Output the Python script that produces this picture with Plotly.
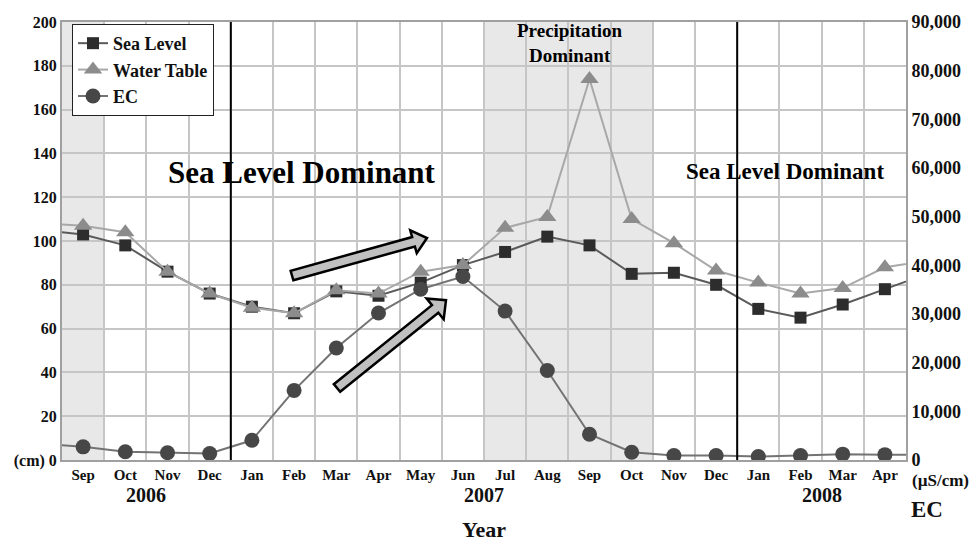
import plotly.graph_objects as go

# ---------------- data ----------------
# months from Aug 2006 to May 2008; first and last only set the line ends at the plot edges
month_labels = ["Aug", "Sep", "Oct", "Nov", "Dec",
                "Jan", "Feb", "Mar", "Apr", "May", "Jun", "Jul", "Aug", "Sep", "Oct", "Nov", "Dec",
                "Jan", "Feb", "Mar", "Apr", "May"]
month_pos = list(range(-1, 21))
sea_level = [105, 103, 98, 86, 76, 70, 67, 77, 75, 81, 89, 95, 102, 98, 85, 85.5, 80, 69, 65, 71, 78, 85]
water_table = [108, 107, 104, 86, 76, 69.5, 67, 77.5, 76, 86, 89, 106, 111, 174, 110, 99, 86.5, 81, 76, 78.5, 88, 91]
ec = [3400, 2700, 1700, 1500, 1350, 4050, 14300, 23000, 30200, 35100, 37700, 30600, 18400, 5300,
      1600, 900, 900, 700, 900, 1200, 1100, 1100]
left_ticks = list(range(0, 201, 20))
left_ticktext = ["(cm) 0"] + [str(v) for v in left_ticks[1:]]
right_ticks = list(range(0, 90001, 10000))
years = ["2006", "2007", "2008"]
year_pos = [1.5, 9.5, 17.5]

# ---------------- layout geometry ----------------
W, H = 979, 545
L, R, T, B = 62, 906, 16, 460
FONT = "Liberation Serif"

def px2paper(px, py):
    return (px - L) / (R - L), (B - py) / (B - T)

def arrow_path(tail, tip, sw=10, hw=25, hl=14):
    import math
    x0, y0 = tail
    x1, y1 = tip
    dx, dy = x1 - x0, y1 - y0
    ln = math.hypot(dx, dy)
    ux, uy = dx / ln, dy / ln
    nx, ny = -uy, ux
    neck = (x1 - ux * hl, y1 - uy * hl)
    pts = [
        (x0 + nx * sw / 2, y0 + ny * sw / 2),
        (neck[0] + nx * sw / 2, neck[1] + ny * sw / 2),
        (neck[0] + nx * hw / 2, neck[1] + ny * hw / 2),
        (x1, y1),
        (neck[0] - nx * hw / 2, neck[1] - ny * hw / 2),
        (neck[0] - nx * sw / 2, neck[1] - ny * sw / 2),
        (x0 - nx * sw / 2, y0 - ny * sw / 2),
    ]
    pp = [px2paper(*p) for p in pts]
    return "M " + " L ".join(f"{a:.5f},{b:.5f}" for a, b in pp) + " Z"

fig = go.Figure()
fig.add_trace(go.Scatter(
    x=month_pos, y=sea_level, name="Sea Level", mode="lines+markers",
    line=dict(color="#5a5a5a", width=2),
    marker=dict(symbol="square", size=12, color="#2d2d2d"),
))
fig.add_trace(go.Scatter(
    x=month_pos, y=water_table, name="Water Table", mode="lines+markers",
    line=dict(color="#a8a8a8", width=2),
    marker=dict(symbol="triangle-up", size=16, color="#8c8c8c"),
))
fig.add_trace(go.Scatter(
    x=month_pos, y=ec, name="EC", mode="lines+markers", yaxis="y2",
    line=dict(color="#737373", width=2),
    marker=dict(symbol="circle", size=15, color="#474747"),
))

shapes = []
# shaded periods
for x0, x1 in [(-0.5, 0.5), (9.5, 13.5)]:
    shapes.append(dict(type="rect", xref="x", yref="paper", x0=x0, x1=x1, y0=0, y1=1,
                       fillcolor="#e8e8e8", line=dict(width=0), layer="below"))
# dividing lines
for xv in [3.5, 15.5]:
    shapes.append(dict(type="line", xref="x", yref="paper", x0=xv, x1=xv, y0=0, y1=1,
                       line=dict(color="black", width=2), layer="above"))
# block arrows
for tail, tip, hw in [((292, 273), (427, 235), 24), ((337, 387), (446, 298), 27)]:
    shapes.append(dict(type="path", xref="paper", yref="paper", path=arrow_path(tail, tip, hw=hw),
                       fillcolor="#c0c0c0", line=dict(color="black", width=2.5), layer="above"))

def pann(px, py, text, size, color="#111"):
    x, y = px2paper(px, py)
    return dict(x=x, y=y, xref="paper", yref="paper", text=text, showarrow=False,
                xanchor="center", yanchor="middle",
                font=dict(family=FONT, size=size, color=color, weight="bold"))

ann = []
for y, xp in zip(years, year_pos):
    ann.append(dict(x=xp, y=-35 / (B - T), xref="x", yref="paper", text=y, showarrow=False,
                    xanchor="center", yanchor="middle",
                    font=dict(family=FONT, size=20, color="#111", weight="bold")))
ann += [
    pann(484, 530, "Year", 22),
    pann(940, 481, "(µS/cm)", 17),
    pann(927, 510, "EC", 23),
    pann(302, 169, "Sea Level Dominant", 31, "#000"),
    pann(785, 168, "Sea Level Dominant", 23, "#000"),
    pann(570, 37, "Precipitation<br>Dominant", 19, "#000"),
]

grid_col = "#c6c6c6"
axis_col = "#a0a0a0"
tick_font = dict(family=FONT, size=16, color="#111", weight="bold")

fig.update_layout(
    width=W, height=H,
    margin=dict(l=L, r=W - R, t=T, b=H - B),
    paper_bgcolor="white", plot_bgcolor="white",
    shapes=shapes, annotations=ann,
    showlegend=True,
    legend=dict(x=(72 - L) / (R - L), y=1 - (18 - T) / (B - T), xanchor="left", yanchor="top",
                bgcolor="white", bordercolor="#222", borderwidth=1,
                font=dict(family=FONT, size=18, color="#111", weight="bold"),
                tracegroupgap=0, itemwidth=30),
    xaxis=dict(range=[-0.5, 19.5], tickmode="array", tickvals=month_pos[1:-1],
               ticktext=month_labels[1:-1], showgrid=False, zeroline=False,
               showline=True, linecolor=axis_col, linewidth=2, mirror=True, ticks="",
               tickfont=dict(family=FONT, size=15, color="#111", weight="bold"),
               minor=dict(tickmode="array", tickvals=[k + 0.5 for k in range(19)],
                          showgrid=True, gridcolor=grid_col, gridwidth=1.5, ticks="")),
    yaxis=dict(range=[0, 200], tickmode="array", tickvals=left_ticks, ticktext=left_ticktext,
               showgrid=True, gridcolor=grid_col, gridwidth=1.5, zeroline=False,
               showline=True, linecolor=axis_col, linewidth=2, ticks="", tickfont=tick_font),
    yaxis2=dict(range=[0, 90000], overlaying="y", side="right", tickmode="array",
                tickvals=right_ticks, tickformat=",", showgrid=False, zeroline=False,
                showline=True, linecolor=axis_col, linewidth=2, ticks="",
                tickfont=dict(family=FONT, size=18, color="#111", weight="bold")),
)

fig.write_html("out.html")
